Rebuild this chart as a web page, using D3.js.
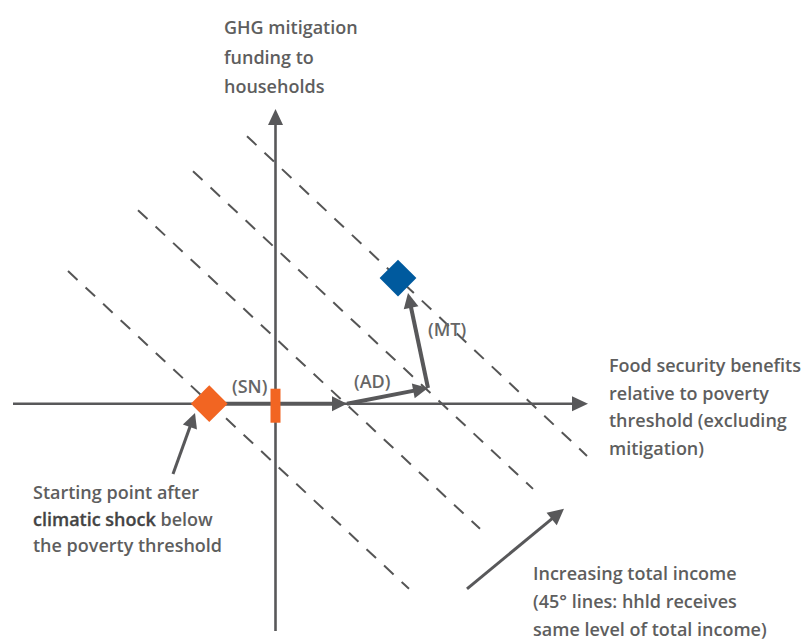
<!DOCTYPE html>
<html>
<head>
<meta charset="utf-8">
<script src="https://cdn.jsdelivr.net/npm/d3@7/dist/d3.min.js"></script>
<style>
  html, body { margin: 0; padding: 0; background: #ffffff; }
  svg { display: block; }
  text { font-family: "Open Sans", Lato, sans-serif; font-weight: 600; }
</style>
</head>
<body>
<svg id="chart" width="804" height="644"></svg>
<script>
// ---- data (conceptual units) ----
const xAxisExtent = [-10.5, 12.5];
const yAxisExtent = [-9.1, 11.8];

// iso-income (dashed) lines: [start, end]
const incomeLines = [
  [[-8.3, 5.31], [5.34, -7.41]],
  [[-5.5, 7.75], [8.18, -5.01]],
  [[-3.3, 9.31], [10.3, -3.41]],
  [[-1.14, 10.71], [12.46, -2.09]]
];

const startPoint = [-2.65, 0];
const snMarker = [0, -0.08];
const pathPoints = [[-2.65, 0], [2.86, 0], [6.1, 0.63], [5.3, 4.43]];
const pathLabels = ["(SN)", "(AD)", "(MT)"];
const endPoint = [4.9, 5.03];

const increasingArrow = [[7.66, -7.41], [11.54, -4.21]];
const pointerArrow = [[-4.1, -2.81], [-3.22, -0.37]];

const yAxisTitle = ["GHG mitigation", "funding to", "households"];
const xAxisTitle = ["Food security benefits", "relative to poverty", "threshold (excluding", "mitigation)"];
const startNote = [["Starting point after"], ["climatic shock", " below"], ["the poverty threshold"]];
const incomeNote = ["Increasing total income", "(45° lines: hhld receives", "same level of total income)"];

// ---- drawing ----
const svg = d3.select("#chart");
const x = d3.scaleLinear().domain(xAxisExtent).range([13, 588]);
const y = d3.scaleLinear().domain(yAxisExtent).range([631, 109]);

const dark = "#58585a";
const orange = "#f26522";
const blue = "#005a9e";
const textCol = "#5e5e5e";

function arrow(g, p0, p1, opt) {
  const x0 = x(p0[0]), y0 = y(p0[1]), x1 = x(p1[0]), y1 = y(p1[1]);
  const dx = x1 - x0, dy = y1 - y0, len = Math.hypot(dx, dy);
  const ux = dx / len, uy = dy / len, nx = -uy, ny = ux;
  const bx = x1 - ux * opt.L, by = y1 - uy * opt.L;
  g.append("line")
    .attr("x1", x0).attr("y1", y0)
    .attr("x2", bx + ux * 1).attr("y2", by + uy * 1)
    .attr("stroke", opt.color).attr("stroke-width", opt.w);
  g.append("polygon")
    .attr("points", [[x1, y1], [bx + nx * opt.W, by + ny * opt.W], [bx - nx * opt.W, by - ny * opt.W]].map(p => p.join(",")).join(" "))
    .attr("fill", opt.color);
}

// dashed iso-income lines
svg.append("g").selectAll("line").data(incomeLines).join("line")
  .attr("x1", d => x(d[0][0])).attr("y1", d => y(d[0][1]))
  .attr("x2", d => x(d[1][0])).attr("y2", d => y(d[1][1]))
  .attr("stroke", "#555").attr("stroke-width", 2)
  .attr("stroke-dasharray", "13,11");

// axes
const axes = svg.append("g");
arrow(axes, [xAxisExtent[0], 0], [xAxisExtent[1], 0], {L: 16, W: 7.5, w: 2.6, color: dark});
arrow(axes, [0, yAxisExtent[0]], [0, yAxisExtent[1]], {L: 16, W: 7.5, w: 2.6, color: dark});

// path arrows
const paths = svg.append("g");
for (let i = 0; i < pathPoints.length - 1; i++) {
  arrow(paths, pathPoints[i], pathPoints[i + 1], {L: 15, W: 7.5, w: 4, color: dark});
}
arrow(paths, increasingArrow[0], increasingArrow[1], {L: 16, W: 8, w: 3, color: dark});
arrow(paths, pointerArrow[0], pointerArrow[1], {L: 15, W: 7.5, w: 3, color: dark});

// markers
svg.append("rect")
  .attr("x", x(snMarker[0]) - 5).attr("y", y(snMarker[1]) - 17)
  .attr("width", 10).attr("height", 34).attr("fill", orange);

const diamond = d3.symbol().type(d3.symbolSquare).size(18.4 * 18.4 * 2);
svg.append("path").attr("d", diamond)
  .attr("transform", `translate(${x(startPoint[0])},${y(startPoint[1])}) rotate(45)`)
  .attr("fill", orange);
svg.append("path").attr("d", diamond)
  .attr("transform", `translate(${x(endPoint[0])},${y(endPoint[1])}) rotate(45)`)
  .attr("fill", blue);

// path labels
const labelPos = [[232, 393], [354, 388], [428, 336]];
svg.append("g").selectAll("text").data(pathLabels).join("text")
  .attr("x", (d, i) => labelPos[i][0]).attr("y", (d, i) => labelPos[i][1])
  .attr("font-size", 18).attr("fill", "#666").text(d => d);

// text blocks
function block(lines, x0, y0, dy) {
  const t = svg.append("text").attr("font-size", 18).attr("fill", textCol);
  lines.forEach((s, i) => t.append("tspan").attr("x", x0).attr("y", y0 + i * dy).text(s));
}
block(yAxisTitle, 224, 34, 29.5);
block(xAxisTitle, 609, 372, 27.7);
block(incomeNote, 533, 580, 28);

// starting-point note (part of line 2 is slightly darker in the original)
const sn = svg.append("text").attr("font-size", 18).attr("fill", textCol);
startNote.forEach((parts, i) => {
  parts.forEach((s, j) => {
    const ts = sn.append("tspan").text(s);
    if (j === 0) ts.attr("x", 33).attr("y", 499 + i * 26.5);
    if (parts.length > 1 && j === 0) ts.attr("fill", "#444").attr("stroke", "#444").attr("stroke-width", 0.3);
  });
});
</script>
</body>
</html>
